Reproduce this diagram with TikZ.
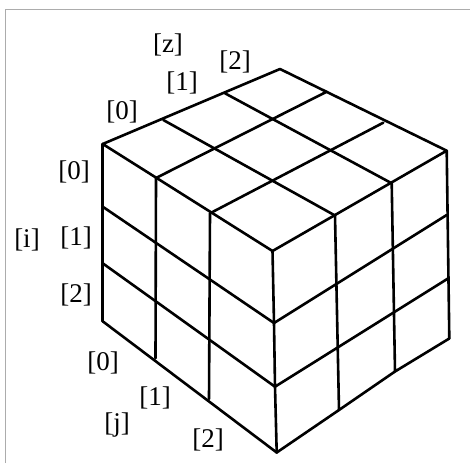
\documentclass[tikz,border=0pt]{standalone}
\usepackage{fontspec}
\setmainfont{Liberation Serif}
\begin{document}
\begin{tikzpicture}[x=1pt, y=-1pt,
  edge/.style={line width=2.6pt, line cap=round, line join=round},
  idx/.style={font=\fontsize{27}{29}\selectfont, inner sep=0pt},
  frame/.style={draw=gray!65, line width=1.6pt}
]
\useasboundingbox (0,0) rectangle (470,463);
% frame
\coordinate (f0) at (5.5,463);
\coordinate (f1) at (5.5,9.5);
\coordinate (f2) at (470,9.5);
\draw[frame] (f0) -- (f1) -- (f2);

% top face
\coordinate (A) at (102.7,144);
\coordinate (B) at (280,69);
\coordinate (C) at (446.7,150.7);
\coordinate (D) at (272.5,251);
\coordinate (ab1) at (163.3,120);
\coordinate (ab2) at (225,93.3);
\coordinate (bc1) at (326.7,91.7);
\coordinate (bc2) at (383.3,122.7);
\coordinate (ad1) at (156,178);
\coordinate (ad2) at (210,213.3);
\coordinate (dc1) at (335,215.5);
\coordinate (dc2) at (391.7,183.3);
\draw[edge] (A) -- (B) -- (C) -- (D) -- cycle;
\draw[edge] (ab1) -- (dc1);
\draw[edge] (ab2) -- (dc2);
\draw[edge] (ad1) -- (bc1);
\draw[edge] (ad2) -- (bc2);

% left face
\coordinate (l1) at (102.7,206.7);
\coordinate (l2) at (102.7,263.3);
\coordinate (l3) at (102.7,321.3);
\coordinate (m1) at (274,323);
\coordinate (m2) at (275,386.7);
\coordinate (m3) at (276.7,452.5);
\coordinate (v1) at (155.5,358.3);
\coordinate (v2) at (209,399);
\draw[edge] (A) -- (l3);
\draw[edge] (ad1) -- (v1);
\draw[edge] (ad2) -- (v2);
\draw[edge] (D) -- (m1) -- (m2) -- (m3);
\draw[edge] (l1) -- (m1);
\draw[edge] (l2) -- (m2);
\draw[edge] (l3) -- (m3);

% right face
\coordinate (r1) at (446.7,215);
\coordinate (r2) at (448.3,278.3);
\coordinate (r3) at (449.3,338.5);
\coordinate (w1) at (339,410);
\coordinate (w2) at (395,371.5);
\draw[edge] (m1) -- (r1);
\draw[edge] (m2) -- (r2);
\draw[edge] (m3) -- (w1) -- (w2) -- (r3);
\draw[edge] (dc1) -- (w1);
\draw[edge] (dc2) -- (w2);
\draw[edge] (C) -- (r3);

% index labels
\node[idx] (z) at (168,45) {[z]};
\node[idx] (z2) at (235,62) {[2]};
\node[idx] (z1) at (182,83) {[1]};
\node[idx] (z0) at (122,112) {[0]};
\node[idx] (i0) at (74,172) {[0]};
\node[idx] (i) at (27,240) {[i]};
\node[idx] (i1) at (76,238) {[1]};
\node[idx] (i2) at (76,295) {[2]};
\node[idx] (j0) at (103,363) {[0]};
\node[idx] (j1) at (155,398) {[1]};
\node[idx] (j) at (117,425) {[j]};
\node[idx] (j2) at (208,440) {[2]};
\end{tikzpicture}
\end{document}
